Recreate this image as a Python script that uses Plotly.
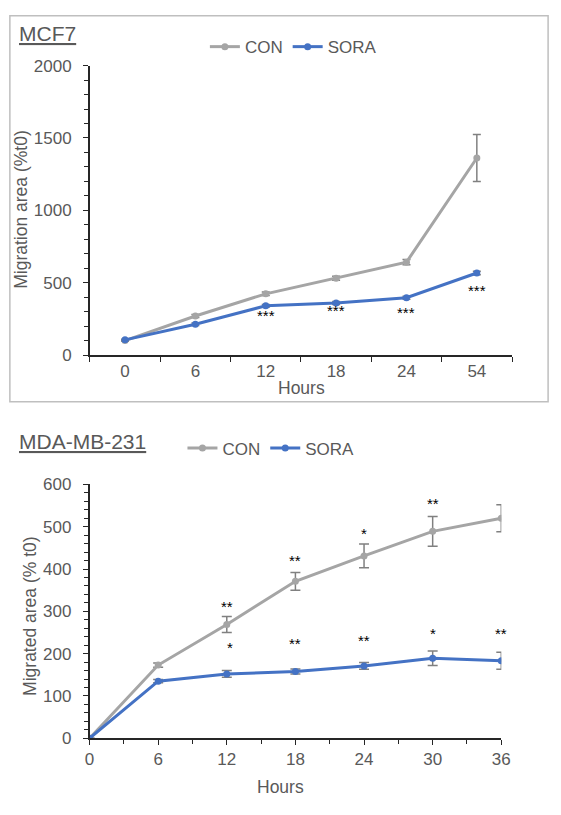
import plotly.graph_objects as go

W, H = 561, 815

# ---------------- data ----------------
mcf7_hours = ["0", "6", "12", "18", "24", "54"]
mcf7_con = [100, 270, 423, 531, 642, 1362]
mcf7_con_err = [5, 10, 12, 14, 18, 162]
mcf7_sora = [105, 213, 340, 360, 396, 567]
mcf7_sora_err = [5, 8, 10, 10, 10, 12]
mcf7_stars = ["", "", "***", "***", "***", "***"]
mcf7_star_y = [0, 0, 272, 306, 295, 443]

mda_hours = [0, 6, 12, 18, 24, 30, 36]
mda_con = [0, 173, 269, 371, 431, 489, 520]
mda_con_err = [0, 5, 19, 21, 28, 35, 32]
mda_sora = [0, 135, 152, 158, 171, 189, 183]
mda_sora_err = [0, 4, 8, 6, 8, 17, 20]
mda_con_stars = ["", "", "**", "**", "*", "**", "**"]
mda_con_star_y = [0, 0, 311, 421, 483, 555, 639]
mda_sora_stars = ["", "", "*", "**", "**", "*", "**"]
mda_sora_star_y = [0, 0, 215, 225, 231, 248, 248]

GRAY = "#A5A5A5"
BLUE = "#4472C4"
TXT = "#595959"
FONT = "Liberation Sans, Arial, sans-serif"
STAR_FONT = dict(size=15, color="#000000", family=FONT)


def px(x):
    return x / W


def py(y):
    return 1 - y / H


fig = go.Figure()

# top panel
fig.add_trace(go.Scatter(
    x=mcf7_hours, y=mcf7_con, name="CON", mode="lines+markers",
    line=dict(color=GRAY, width=3), marker=dict(color=GRAY, size=7),
    error_y=dict(type="data", array=mcf7_con_err, color="#808080", thickness=1.5, width=4),
    xaxis="x", yaxis="y", legend="legend"))
fig.add_trace(go.Scatter(
    x=mcf7_hours, y=mcf7_sora, name="SORA", mode="lines+markers",
    line=dict(color=BLUE, width=3), marker=dict(color=BLUE, size=7),
    error_y=dict(type="data", array=mcf7_sora_err, color="#808080", thickness=1.5, width=4),
    xaxis="x", yaxis="y", legend="legend"))

# bottom panel
fig.add_trace(go.Scatter(
    x=mda_hours, y=mda_con, name="CON", mode="lines+markers",
    line=dict(color=GRAY, width=3), marker=dict(color=GRAY, size=7),
    error_y=dict(type="data", array=mda_con_err, color="#808080", thickness=1.5, width=5),
    xaxis="x2", yaxis="y2", legend="legend2"))
fig.add_trace(go.Scatter(
    x=mda_hours, y=mda_sora, name="SORA", mode="lines+markers",
    line=dict(color=BLUE, width=3), marker=dict(color=BLUE, size=7),
    error_y=dict(type="data", array=mda_sora_err, color="#808080", thickness=1.5, width=5),
    xaxis="x2", yaxis="y2", legend="legend2"))

annotations = []
for i, (s, yv) in enumerate(zip(mcf7_stars, mcf7_star_y)):
    if s:
        annotations.append(dict(x=i, y=yv, xref="x", yref="y", text=s, showarrow=False,
                                font=STAR_FONT))
for h, s, yv in zip(mda_hours, mda_con_stars, mda_con_star_y):
    if s:
        annotations.append(dict(x=h, y=yv, xref="x2", yref="y2", text=s, showarrow=False,
                                font=STAR_FONT))
for h, s, yv in zip(mda_hours, mda_sora_stars, mda_sora_star_y):
    if s:
        annotations.append(dict(x=h, y=yv, xref="x2", yref="y2", text=s, showarrow=False,
                                xshift=3 if h == 12 else 0, font=STAR_FONT))

# titles and axis titles
annotations += [
    dict(x=px(12), y=py(25), xref="paper", yref="paper", xanchor="left", yanchor="middle",
         text="<u>MCF7</u>", showarrow=False, font=dict(size=21, color=TXT, family=FONT)),
    dict(x=px(12), y=py(443), xref="paper", yref="paper", xanchor="left", yanchor="middle",
         text="<u>MDA-MB-231</u>", showarrow=False, font=dict(size=21, color=TXT, family=FONT)),
    dict(x=px(17), y=py(205), xref="paper", yref="paper", xanchor="center", yanchor="middle",
         text="Migration area (%t0)", textangle=-90, showarrow=False,
         font=dict(size=17.5, color=TXT, family=FONT)),
    dict(x=px(25), y=py(621), xref="paper", yref="paper", xanchor="center", yanchor="middle",
         text="Migrated area (% t0)", textangle=-90, showarrow=False,
         font=dict(size=17.5, color=TXT, family=FONT)),
    dict(x=px(304), y=py(388), xref="paper", yref="paper", xanchor="center", yanchor="middle",
         text="Hours", showarrow=False, font=dict(size=17.5, color=TXT, family=FONT)),
    dict(x=px(283), y=py(797), xref="paper", yref="paper", xanchor="center", yanchor="middle",
         text="Hours", showarrow=False, font=dict(size=17.5, color=TXT, family=FONT)),
]

axis_common = dict(showgrid=False, zeroline=False, showline=True, linecolor="#262626",
                   linewidth=1.5, ticks="outside", tickcolor="#262626", ticklen=5,
                   tickfont=dict(size=17, color=TXT, family=FONT))

fig.update_layout(
    width=W, height=H, margin=dict(l=0, r=0, t=0, b=0),
    paper_bgcolor="white", plot_bgcolor="white",
    font=dict(family=FONT, color=TXT),
    xaxis=dict(domain=[px(87), px(520)], type="category", range=[-0.5, 5.5],
               tickson="boundaries", anchor="y", **axis_common),
    yaxis=dict(domain=[py(354.3), py(58)], range=[0, 2000], tickvals=[0, 500, 1000, 1500, 2000],
               anchor="x", ticklabelstandoff=8,
               minor=dict(dtick=100, ticks="outside", ticklen=4, tickcolor="#262626"),
               **axis_common),
    xaxis2=dict(domain=[px(86.7), px(509)], range=[0, 36], tickvals=mda_hours, anchor="y2",
                minor=dict(dtick=3, ticks="outside", ticklen=4, tickcolor="#262626"),
                **axis_common),
    yaxis2=dict(domain=[py(746.7), py(486.7)], range=[0, 600], dtick=100, anchor="x2",
                ticklabelstandoff=8,
                minor=dict(dtick=20, ticks="outside", ticklen=4, tickcolor="#262626"),
                **axis_common),
    legend=dict(orientation="h", x=px(205), y=py(39), xanchor="left", yanchor="middle",
                font=dict(size=17, color=TXT, family=FONT), bgcolor="rgba(0,0,0,0)",
                itemwidth=30, tracegroupgap=0),
    legend2=dict(orientation="h", x=px(182), y=py(450), xanchor="left", yanchor="middle",
                 font=dict(size=17, color=TXT, family=FONT), bgcolor="rgba(0,0,0,0)",
                 itemwidth=30, tracegroupgap=0),
    annotations=annotations,
    shapes=[dict(type="rect", xref="paper", yref="paper", x0=px(5), x1=px(557),
                 y0=py(402), y1=py(7), line=dict(color="#BFBFBF", width=1.5))],
)

fig.write_html(
    "out.html",
    post_script="document.body.style.margin='0';document.body.style.overflow='hidden';",
    config={"displayModeBar": False},
)
